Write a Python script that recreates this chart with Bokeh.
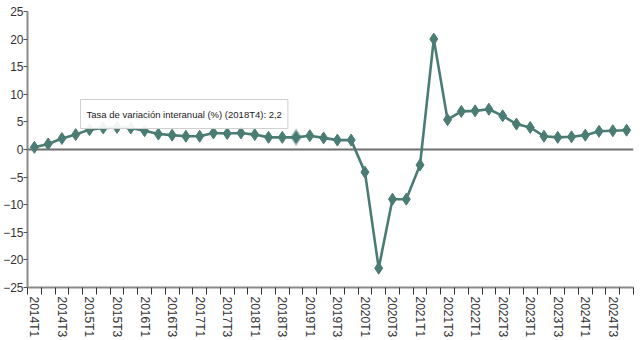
from bokeh.plotting import figure
from bokeh.models import FixedTicker, Span, Label, Range1d, ColumnDataSource
from bokeh.embed import file_html
from bokeh.resources import INLINE

quarters = [f"{y}T{q}" for y in range(2014, 2025) for q in range(1, 5)]
values = [0.4, 1.0, 2.0, 2.7, 3.6, 3.9, 4.0, 3.9,
          3.4, 2.8, 2.6, 2.4, 2.4, 3.0, 2.9, 3.0,
          2.7, 2.2, 2.2, 2.2, 2.5, 2.1, 1.7, 1.7,
          -4.1, -21.5, -9.0, -9.0, -2.8, 20.0, 5.4, 6.9,
          7.0, 7.3, 6.1, 4.6, 4.0, 2.4, 2.2, 2.3,
          2.6, 3.3, 3.4, 3.5]
y_ticks = [-25, -20, -15, -10, -5, 0, 5, 10, 15, 20, 25]
series_name = "Tasa de variación interanual (%)"
hover_index = 19

LINE_COLOR = "#4a7c74"
FONT = "Liberation Sans"

xs = [i + 0.5 for i in range(len(quarters))]
src = ColumnDataSource(dict(x=xs, y=values, q=quarters))

p = figure(width=643, height=340, output_backend="svg", toolbar_location=None,
           x_range=Range1d(0, len(quarters)), y_range=Range1d(-25, 25),
           min_border_left=20, min_border_right=10, min_border_top=11,
           min_border_bottom=40)
p.outline_line_color = None
p.xgrid.visible = False
p.ygrid.visible = False

zero = Span(location=0, dimension="width", line_color="#6e6e6e", line_width=2, level="underlay")
p.add_layout(zero)

p.line("x", "y", source=src, line_color=LINE_COLOR, line_width=2.6)
p.scatter("x", "y", source=src, marker="diamond", size=12, fill_color=LINE_COLOR,
          line_color=LINE_COLOR)
p.scatter([xs[hover_index]], [values[hover_index]], marker="diamond", size=18,
          fill_color=LINE_COLOR, line_color=None, alpha=0.45)

# x axis: tick marks at band edges, labels at centers of every other band
xt = FixedTicker(ticks=[xs[i] for i in range(0, len(quarters), 2)],
                 minor_ticks=list(range(0, len(quarters) + 1)))
p.xaxis.ticker = xt
p.xaxis.major_label_overrides = {xs[i]: quarters[i] for i in range(0, len(quarters), 2)}
p.xaxis.major_label_orientation = "vertical"
p.xaxis.major_tick_out = 0
p.xaxis.major_tick_in = 0
p.xaxis.minor_tick_out = 7
p.xaxis.minor_tick_in = 0
p.xaxis.minor_tick_line_color = "#333333"
p.xaxis.axis_line_color = "#8a8a8a"
p.xaxis.axis_line_width = 2
p.xaxis.major_label_standoff = 2
p.xaxis.major_label_text_font = FONT
p.xaxis.major_label_text_font_size = "12px"
p.xaxis.major_label_text_color = "#333333"

p.yaxis.ticker = FixedTicker(ticks=y_ticks)
p.yaxis.major_tick_out = 4
p.yaxis.major_tick_in = 0
p.yaxis.minor_tick_out = 0
p.yaxis.major_tick_line_color = "#555555"
p.yaxis.axis_line_color = "#8a8a8a"
p.yaxis.axis_line_width = 2
p.yaxis.major_label_standoff = 0
p.yaxis.major_label_text_font = FONT
p.yaxis.major_label_text_font_size = "12px"
p.yaxis.major_label_text_color = "#333333"

tip_text = f"{series_name} ({quarters[hover_index]}): " + f"{values[hover_index]:.1f}".replace(".", ",")
tip = Label(x=3.85, y=3.8, text=tip_text, text_font=FONT, text_font_size="9.5px",
            text_color="#222222", background_fill_color="white",
            background_fill_alpha=0.92, border_line_color="#d0d0d0",
            border_line_width=1, padding=(6, 9))
p.add_layout(tip)

open("out.html", "w").write(file_html(p, INLINE))
